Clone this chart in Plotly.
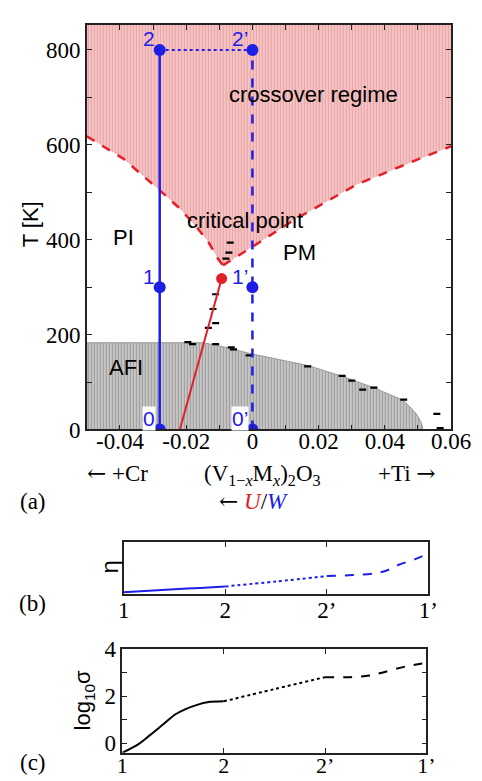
import plotly.graph_objects as go

W, H = 482, 781

# ---------------- Panel (a) data ----------------
xa_tickvals = [-0.04, -0.02, 0.0, 0.02, 0.04, 0.06]
xa_ticktext = ["-0.04", "-0.02", "0", "0.02", "0.04", "0.06"]
xa_minorvals = [-0.05, -0.03, -0.01, 0.01, 0.03, 0.05]
ya_tickvals = [0, 200, 400, 600, 800]
ya_ticktext = ["0", "200", "400", "600", "800"]
ya_minorvals = [100, 300, 500, 700]

# crossover boundaries (red dashed)
left_x = [-0.05, -0.039, -0.0283, -0.0218, -0.017, -0.0132, -0.0104, -0.0089]
left_T = [618, 571, 506, 465, 428, 394, 360, 346]
right_x = [-0.0089, -0.0056, 0.0, 0.0124, 0.0314, 0.0505, 0.06]
right_T = [346, 360, 385, 441, 516, 571, 597]
T_top = 853

# AFI region
afi_x = [-0.05, -0.0152, -0.011, -0.0057, 0.0, 0.0167, 0.0272, 0.0367, 0.0457, 0.0495, 0.051, 0.0515]
afi_T = [183, 183, 178, 169, 159, 135, 112, 88, 61, 33, 15, 0]

# experimental points
exp_x = [-0.0067, -0.0071, -0.008, -0.0111, -0.0119, -0.0111, -0.0133, -0.0195, -0.0181,
         -0.0111, -0.0064, -0.0057, -0.001, 0.0167, 0.0271, 0.030, 0.0333, 0.0367,
         0.0457, 0.0557, 0.0567]
exp_T = [394, 373, 360, 285, 254, 224, 214, 184, 180,
         180, 173, 169, 156, 133, 113, 103, 84, 88,
         63, 33, 3]

# first-order transition line and critical point
mit_x = [-0.0219, -0.0093]
mit_T = [0, 318]
crit_x = [-0.0093]
crit_T = [318]

# paths
path_left_x = -0.028
path_right_x = 0.0
path_T = [0, 300, 800]
path_left_labels = ["0", "1", "2"]
path_right_labels = ["0\u2019", "1\u2019", "2\u2019"]

# region labels
region_text = ["crossover regime", "critical point", "PI", "PM", "AFI"]
region_x = [0.0183, -0.0021, -0.039, 0.0141, -0.0381]
region_T = [706, 441, 405, 373, 130]

# ---------------- Panels (b), (c) data ----------------
path_tickvals = [0, 1, 2, 3]
path_ticktext = ["1", "2", "2\u2019", "1\u2019"]

eta_solid_x = [0, 0.25, 0.5, 0.75, 1.0]
eta_solid_y = [0.025, 0.055, 0.083, 0.11, 0.138]
eta_dot_x = [1.0, 1.5, 2.0]
eta_dot_y = [0.138, 0.235, 0.34]
eta_dash_x = [2.0, 2.25, 2.46, 2.59, 2.71, 2.87, 3.0]
eta_dash_y = [0.34, 0.36, 0.39, 0.45, 0.56, 0.67, 0.78]

sig_solid_x = [0, 0.163, 0.273, 0.40, 0.525, 0.619, 0.745, 0.839, 1.0]
sig_solid_y = [-0.41, -0.03, 0.34, 0.79, 1.23, 1.44, 1.64, 1.74, 1.78]
sig_dot_x = [1.0, 1.5, 2.0]
sig_dot_y = [1.78, 2.3, 2.81]
sig_dash_x = [2.0, 2.25, 2.44, 2.57, 2.79, 3.0]
sig_dash_y = [2.81, 2.81, 2.88, 3.01, 3.26, 3.42]
sig_tickvals = [0, 2, 4]
sig_ticktext = ["0", "2", "4"]
sig_minorvals = [1, 3]

# ---------------- styles ----------------
BLUE = "#1e1ee6"
RED = "#e3202a"
SERIF = "Liberation Serif"
SANS = "Liberation Sans"

fig = go.Figure()

# crossover region fill
fill_x = left_x + right_x[1:] + [right_x[-1], left_x[0], left_x[0]]
fill_T = left_T + right_T[1:] + [T_top, T_top, left_T[0]]
fig.add_trace(go.Scatter(
    x=fill_x, y=fill_T, mode="lines", fill="toself", line=dict(width=0),
    fillcolor="#efb4b4",
    fillpattern=dict(shape="|", size=3, solidity=0.4, fgcolor="#e07f84", bgcolor="#f5c6c6"),
    hoverinfo="skip", showlegend=False, xaxis="x", yaxis="y"))

# AFI fill
afi_fx = afi_x + [afi_x[0], afi_x[0]]
afi_fT = afi_T + [0, afi_T[0]]
fig.add_trace(go.Scatter(
    x=afi_fx, y=afi_fT, mode="lines", fill="toself", line=dict(width=0.8, color="#8a8a8a"),
    fillcolor="#b0b0b0",
    fillpattern=dict(shape="|", size=3, solidity=0.5, fgcolor="#666666", bgcolor="#d2d2d2"),
    hoverinfo="skip", showlegend=False, xaxis="x", yaxis="y"))

# dashed crossover boundaries
for bx, bt in ((left_x, left_T), (right_x, right_T)):
    fig.add_trace(go.Scatter(x=bx, y=bt, mode="lines",
                             line=dict(color=RED, width=2.5, dash="dash"),
                             showlegend=False, xaxis="x", yaxis="y"))

# experimental points
fig.add_trace(go.Scatter(x=exp_x, y=exp_T, mode="markers",
                         marker=dict(symbol="line-ew", size=5, line=dict(width=2.2, color="black")),
                         showlegend=False, xaxis="x", yaxis="y"))

# transition line
fig.add_trace(go.Scatter(x=mit_x, y=mit_T, mode="lines", line=dict(color=RED, width=2),
                         showlegend=False, xaxis="x", yaxis="y"))

# blue paths
fig.add_trace(go.Scatter(x=[path_left_x] * len(path_T), y=path_T, mode="lines+markers",
                         line=dict(color=BLUE, width=2.5), marker=dict(size=12, color=BLUE),
                         showlegend=False, xaxis="x", yaxis="y"))
fig.add_trace(go.Scatter(x=[path_right_x] * len(path_T), y=path_T, mode="lines+markers",
                         line=dict(color=BLUE, width=2.5, dash="dash"), marker=dict(size=12, color=BLUE),
                         showlegend=False, xaxis="x", yaxis="y"))
fig.add_trace(go.Scatter(x=[path_left_x, path_right_x], y=[path_T[-1], path_T[-1]], mode="lines",
                         line=dict(color=BLUE, width=2, dash="dot"),
                         showlegend=False, xaxis="x", yaxis="y"))

# critical point
fig.add_trace(go.Scatter(x=crit_x, y=crit_T, mode="markers", marker=dict(size=11, color=RED),
                         showlegend=False, xaxis="x", yaxis="y"))

# panel (b)
for xs, ys, d in ((eta_solid_x, eta_solid_y, "solid"), (eta_dot_x, eta_dot_y, "dot"),
                  (eta_dash_x, eta_dash_y, "dash")):
    fig.add_trace(go.Scatter(x=xs, y=ys, mode="lines", line=dict(color=BLUE, width=2, dash=d, shape="spline"),
                             showlegend=False, xaxis="x2", yaxis="y2"))

# panel (c)
for xs, ys, d in ((sig_solid_x, sig_solid_y, "solid"), (sig_dot_x, sig_dot_y, "dot"),
                  (sig_dash_x, sig_dash_y, "dash")):
    fig.add_trace(go.Scatter(x=xs, y=ys, mode="lines", line=dict(color="black", width=2, dash=d, shape="spline"),
                             showlegend=False, xaxis="x3", yaxis="y3"))

# ---------------- axes ----------------
def axis_style(ticks="inside", standoff=0, size=23, minor=None):
    d = dict(showline=True, linecolor="#222222", linewidth=1.5, mirror="ticks" if ticks else True,
             ticks=ticks, ticklen=5, tickwidth=1.2, tickcolor="#222222",
             showgrid=False, zeroline=False,
             tickfont=dict(family=SERIF, size=size, color="black"))
    if standoff:
        d["ticklabelstandoff"] = standoff
    if minor is not None:
        d["minor"] = dict(tickmode="array", tickvals=minor, ticks="inside", ticklen=5,
                          tickwidth=1.2, tickcolor="#222222", showgrid=False)
    return d

def px2x(p):
    return p / W

def py2y(p):
    return 1 - p / H

fig.update_layout(
    width=W, height=H, margin=dict(l=0, r=0, t=0, b=0),
    paper_bgcolor="white", plot_bgcolor="white",
    xaxis=dict(domain=[px2x(77), px2x(462)], range=[-0.05, 0.06], anchor="y",
               tickmode="array", tickvals=xa_tickvals, ticktext=xa_ticktext,
               **axis_style(standoff=-10, minor=xa_minorvals)),
    yaxis=dict(domain=[py2y(423), py2y(5)], range=[0, T_top], anchor="x",
               tickmode="array", tickvals=ya_tickvals, ticktext=ya_ticktext,
               **axis_style(minor=ya_minorvals)),
    xaxis2=dict(domain=[px2x(116), px2x(438)], range=[0, 3], anchor="y2",
                tickmode="array", tickvals=path_tickvals, ticktext=path_ticktext, **axis_style(standoff=-5)),
    yaxis2=dict(domain=[py2y(592.5), py2y(539.5)], range=[0, 1], anchor="x2",
                showticklabels=False, **axis_style("")),
    xaxis3=dict(domain=[px2x(114.5), px2x(436)], range=[0, 3], anchor="y3",
                tickmode="array", tickvals=path_tickvals, ticktext=path_ticktext,
                **axis_style(standoff=-8, size=22)),
    yaxis3=dict(domain=[py2y(757), py2y(650)], range=[-0.41, 4.0], anchor="x3",
                tickmode="array", tickvals=sig_tickvals, ticktext=sig_ticktext,
                **axis_style(minor=sig_minorvals)),
)

ann = []
# region labels
for t, xx, yy in zip(region_text, region_x, region_T):
    ann.append(dict(x=xx, y=yy, xref="x", yref="y", text=t, showarrow=False,
                    font=dict(family=SANS, size=22, color="black")))
# path point labels
for lab, T in zip(path_left_labels, path_T):
    ann.append(dict(x=path_left_x, y=T, xref="x", yref="y", text=lab, showarrow=False,
                    xanchor="right", yanchor="middle", xshift=-4, yshift=11,
                    bgcolor="white" if T == 0 else None, borderpad=0,
                    font=dict(family=SANS, size=21, color=BLUE)))
for lab, T in zip(path_right_labels, path_T):
    ann.append(dict(x=path_right_x, y=T, xref="x", yref="y", text=lab, showarrow=False,
                    xanchor="right", yanchor="middle", xshift=-3, yshift=11,
                    bgcolor="white" if T == 0 else None, borderpad=0,
                    font=dict(family=SANS, size=21, color=BLUE)))

def pann(text, x, y, font, angle=0, **kw):
    d = dict(x=px2x(x), y=py2y(y), xref="paper", yref="paper", text=text, showarrow=False,
             xanchor="center", yanchor="middle", textangle=angle, font=font)
    d.update(kw)
    ann.append(d)

ARROW_L = "<span style='font-family:DejaVu Serif'>\u2190</span>"
ARROW_R = "<span style='font-family:DejaVu Serif'>\u2192</span>"
serif_font = dict(family=SERIF, size=23, color="black")
pann("T [K]", 17, 211, dict(family=SANS, size=22, color="black"), -90)
pann(ARROW_L + " +Cr", 109, 468, serif_font)
pann("(V<sub>1\u2212<i>x</i></sub>M<sub><i>x</i></sub>)<sub>2</sub>O<sub>3</sub>", 263, 470, serif_font)
pann("+Ti " + ARROW_R, 415, 468, serif_font)
pann("(a)", 20, 497, serif_font)
pann(ARROW_L + " <i><span style='color:#e3202a'>U</span></i>/<i><span style='color:#1e1ee6'>W</span></i>",
     253, 497, serif_font)
pann("\u03b7", 101, 565, dict(family=SANS, size=24, color="black"), -90)
pann("(b)", 20, 603, serif_font)
pann("log<sub>10</sub>\u03c3", 75, 703, dict(family=SANS, size=22, color="black"), -90)
pann("(c)", 20, 767, serif_font)

fig.update_layout(annotations=ann)
fig.write_html("out.html")
